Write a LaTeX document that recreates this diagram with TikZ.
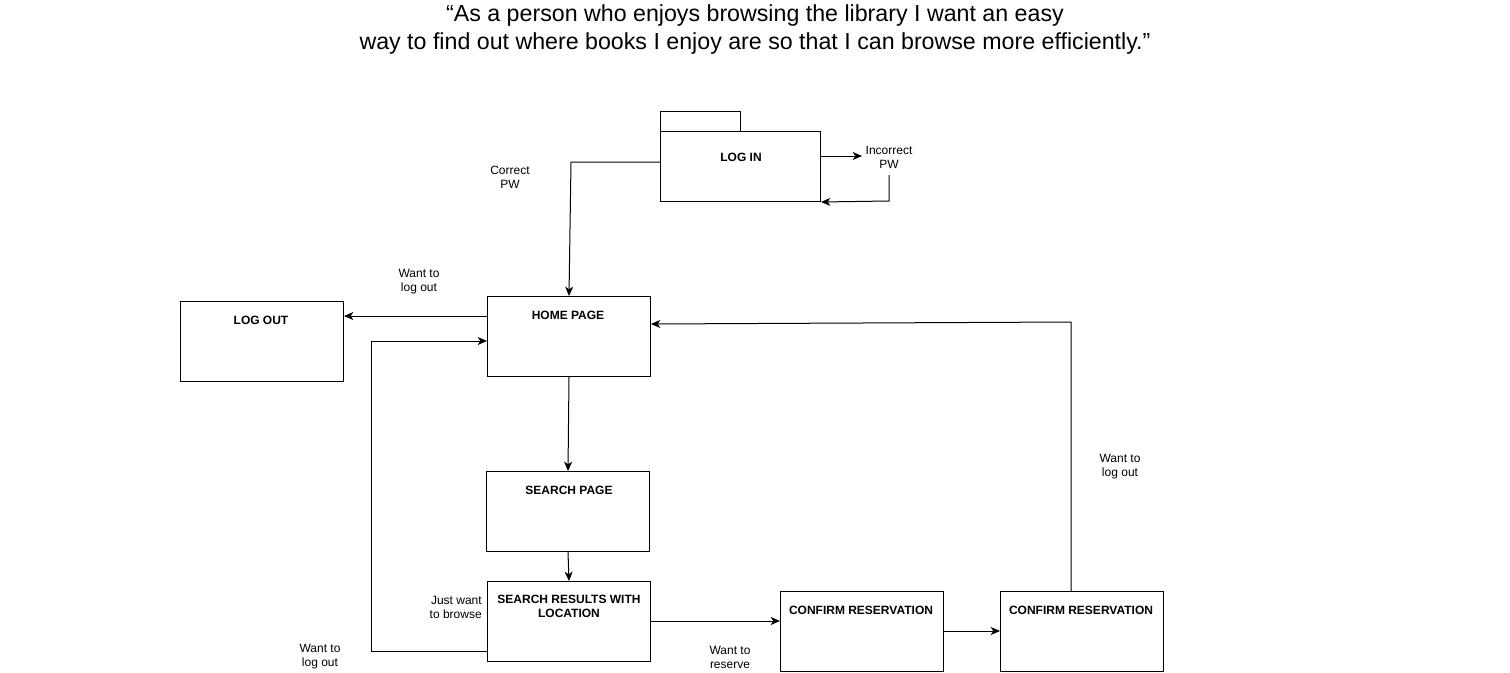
\documentclass[tikz,border=0pt]{standalone}
\usepackage{fontspec}
\setmainfont{Liberation Sans}
\usetikzlibrary{arrows.meta,calc}
\begin{document}
\begin{tikzpicture}[x=0.75pt,y=-0.75pt,
  box/.style={draw=black,line width=0.75pt,minimum width=163*0.75pt,minimum height=80*0.75pt,inner sep=0pt,anchor=north west},
  ttl/.style={font=\bfseries\fontsize{9}{10.5}\selectfont,align=center,inner sep=0pt},
  lbl/.style={font=\fontsize{9}{10.5}\selectfont,align=center,inner sep=0pt},
  conn/.style={line width=0.75pt,-{Stealth[length=7pt,width=6pt,inset=2pt]}},
  plain/.style={line width=0.75pt}]
\useasboundingbox (0,0) rectangle (1510,672);
% title
\node[font=\fontsize{17.4}{21}\selectfont,align=center,inner sep=0pt] (title) at (755,29)
  {“As a person who enjoys browsing the library I want an easy\\ way to find out where books I enjoy are so that I can browse more efficiently.”};
% boxes
\node[draw=black,line width=0.75pt,minimum width=80*0.75pt,minimum height=20*0.75pt,inner sep=0pt,anchor=north west] (tab) at (660,111) {};
\node[box,minimum width=160*0.75pt,minimum height=70*0.75pt] (login) at (660,131) {};
\node[box] (home) at (487,296) {};
\node[box] (logout) at (180,301) {};
\node[box] (search) at (486,471) {};
\node[box] (results) at (487,581) {};
\node[box] (conf1) at (780,591) {};
\node[box] (conf2) at (1000,591) {};
% box titles
\node[ttl] (logintxt) at (741,157) {LOG IN};
\node[ttl] (hometxt) at (568,315) {HOME PAGE};
\node[ttl] (logouttxt) at (261,320) {LOG OUT};
\node[ttl] (searchtxt) at (569,490) {SEARCH PAGE};
\node[ttl] (resultstxt) at (569,606) {SEARCH RESULTS WITH\\LOCATION};
\node[ttl] (conf1txt) at (861,610) {CONFIRM RESERVATION};
\node[ttl] (conf2txt) at (1081,610) {CONFIRM RESERVATION};
% labels
\node[lbl] (incorrect) at (889,157) {Incorrect\\PW};
\node[lbl] (correct) at (510,177) {Correct\\PW};
\node[lbl] (wlo1) at (419,282) {Want to\\log out};
\node[lbl,align=right,anchor=east] (browse) at (482,607) {Just want\\to browse};
\node[lbl] (wlo2) at (320,657) {Want to\\log out};
\node[lbl] (reserve) at (730,657) {Want to\\reserve};
\node[lbl] (wlo3) at (1120,467) {Want to\\log out};
% coordinates
\coordinate (incbot) at (889,175);
% connectors
\draw[conn] (login.east |- 0,156) -- (862,156);
\draw[conn] (incbot) -- (889,201) -- (login.south east);
\draw[conn] (login.west |- 0,162) -- (571,162) -- (home.north);
\draw[conn] (home.west |- 0,316) -- (logout.east |- 0,316);
\draw[conn] (home.south) -- (search.north -| 568,0);
\draw[conn] (search.south -| 568,0) -- (results.north -| 569,0);
\draw[conn] (results.west |- 0,651) -- (371,651) -- (371,341) -- (home.west |- 0,341);
\draw[conn] (results.east |- 0,621) -- (conf1.west |- 0,621);
\draw[conn] (conf1.east |- 0,631) -- (conf2.west |- 0,631);
\draw[conn] (conf2.north -| 1071,0) -- (1071,322) -- (home.east |- 0,324);
\end{tikzpicture}
\end{document}
